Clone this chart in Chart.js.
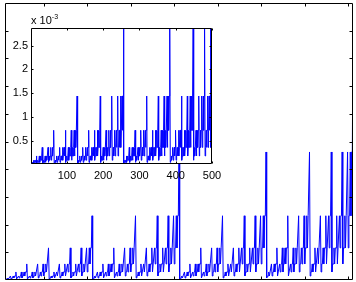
<!DOCTYPE html>
<html>
<head>
<meta charset="utf-8">
<script src="https://cdn.jsdelivr.net/npm/chart.js@4.4.1/dist/chart.umd.min.js"></script>
<style>
  body { margin: 0; background: #fff; }
  #wrap { position: relative; width: 356px; height: 282px; }
  #wrap canvas { position: absolute; left: 0; top: 0; }
  #expo { position: absolute; left: 31px; top: 13px; font: 11px 'Liberation Sans', Arial, sans-serif; color: #000; }
  #expo sup { font-size: 7px; }
</style>
</head>
<body>
<div id="wrap">
  <canvas id="mainChart" width="356" height="282"></canvas>
  <canvas id="insetChart" width="230" height="190"></canvas>
  <div id="expo">x 10<sup>-3</sup></div>
</div>
<script>
// signal values (x 10^-3), samples 1..512
const signal = [
  0.011,0.022,0.022,0.045,0.022,0.045,0.045,0.09,0.022,0.045,0.045,0.09,0.045,0.09,0.09,0.18,
  0.022,0.045,0.045,0.09,0.045,0.09,0.09,0.18,0.045,0.09,0.09,0.18,0.09,0.18,0.18,0.36,
  0.022,0.045,0.045,0.09,0.045,0.09,0.09,0.18,0.045,0.09,0.09,0.18,0.09,0.18,0.18,0.36,
  0.045,0.09,0.09,0.18,0.09,0.18,0.18,0.36,0.09,0.18,0.18,0.36,0.18,0.36,0.36,0.72,
  0.022,0.045,0.045,0.09,0.045,0.09,0.09,0.18,0.045,0.09,0.09,0.18,0.09,0.18,0.18,0.36,
  0.045,0.09,0.09,0.18,0.09,0.18,0.18,0.36,0.09,0.18,0.18,0.36,0.18,0.36,0.36,0.72,
  0.045,0.09,0.09,0.18,0.09,0.18,0.18,0.36,0.09,0.18,0.18,0.36,0.18,0.36,0.36,0.72,
  0.09,0.18,0.18,0.36,0.18,0.36,0.36,0.72,0.18,0.36,0.36,0.72,0.36,0.72,0.72,1.44,
  0.022,0.045,0.045,0.09,0.045,0.09,0.09,0.18,0.045,0.09,0.09,0.18,0.09,0.18,0.18,0.36,
  0.045,0.09,0.09,0.18,0.09,0.18,0.18,0.36,0.09,0.18,0.18,0.36,0.18,0.36,0.36,0.72,
  0.045,0.09,0.09,0.18,0.09,0.18,0.18,0.36,0.09,0.18,0.18,0.36,0.18,0.36,0.36,0.72,
  0.09,0.18,0.18,0.36,0.18,0.36,0.36,0.72,0.18,0.36,0.36,0.72,0.36,0.72,0.72,1.44,
  0.045,0.09,0.09,0.18,0.09,0.18,0.18,0.36,0.09,0.18,0.18,0.36,0.18,0.36,0.36,0.72,
  0.09,0.18,0.18,0.36,0.18,0.36,0.36,0.72,0.18,0.36,0.36,0.72,0.36,0.72,0.72,1.44,
  0.09,0.18,0.18,0.36,0.18,0.36,0.36,0.72,0.18,0.36,0.36,0.72,0.36,0.72,0.72,1.44,
  0.18,0.36,0.36,0.72,0.36,0.72,0.72,1.44,0.36,0.72,0.72,1.44,0.72,1.44,1.44,2.87,
  0.022,0.045,0.045,0.09,0.045,0.09,0.09,0.18,0.045,0.09,0.09,0.18,0.09,0.18,0.18,0.36,
  0.045,0.09,0.09,0.18,0.09,0.18,0.18,0.36,0.09,0.18,0.18,0.36,0.18,0.36,0.36,0.72,
  0.045,0.09,0.09,0.18,0.09,0.18,0.18,0.36,0.09,0.18,0.18,0.36,0.18,0.36,0.36,0.72,
  0.09,0.18,0.18,0.36,0.18,0.36,0.36,0.72,0.18,0.36,0.36,0.72,0.36,0.72,0.72,1.44,
  0.045,0.09,0.09,0.18,0.09,0.18,0.18,0.36,0.09,0.18,0.18,0.36,0.18,0.36,0.36,0.72,
  0.09,0.18,0.18,0.36,0.18,0.36,0.36,0.72,0.18,0.36,0.36,0.72,0.36,0.72,0.72,1.44,
  0.09,0.18,0.18,0.36,0.18,0.36,0.36,0.72,0.18,0.36,0.36,0.72,0.36,0.72,0.72,1.44,
  0.18,0.36,0.36,0.72,0.36,0.72,0.72,1.44,0.36,0.72,0.72,1.44,0.72,1.44,1.44,2.87,
  0.045,0.09,0.09,0.18,0.09,0.18,0.18,0.36,0.09,0.18,0.18,0.36,0.18,0.36,0.36,0.72,
  0.09,0.18,0.18,0.36,0.18,0.36,0.36,0.72,0.18,0.36,0.36,0.72,0.36,0.72,0.72,1.44,
  0.09,0.18,0.18,0.36,0.18,0.36,0.36,0.72,0.18,0.36,0.36,0.72,0.36,0.72,0.72,1.44,
  0.18,0.36,0.36,0.72,0.36,0.72,0.72,1.44,0.36,0.72,0.72,1.44,0.72,1.44,1.44,2.87,
  0.09,0.18,0.18,0.36,0.18,0.36,0.36,0.72,0.18,0.36,0.36,0.72,0.36,0.72,0.72,1.44,
  0.18,0.36,0.36,0.72,0.36,0.72,0.72,1.44,0.36,0.72,0.72,1.44,0.72,1.44,1.44,2.87,
  0.18,0.36,0.36,0.72,0.36,0.72,0.72,1.44,0.36,0.72,0.72,1.44,0.72,1.44,1.44,2.87,
  0.36,0.72,0.72,1.44,0.72,1.44,1.44,2.87,0.72,1.44,1.44,2.87,1.44,2.87,2.87,5.74
];
const insetCount = 500;

// tick positions (labels of the main axes are cut off in the picture)
const mainXTicks = [57, 121, 185, 249, 313, 377, 441, 505];
const mainYTicks = [0.621, 1.242, 1.863, 2.484, 3.105, 3.726, 4.347, 4.968, 5.589];
const insetXTicks = [100, 200, 300, 400, 500];
const insetYTicks = [0.5, 1, 1.5, 2, 2.5];

const font = { family: "'Liberation Sans', Arial, sans-serif", size: 11 };

// white plot area + black box with inward ticks, matlab style
const frameTicks = {
  id: 'frameTicks',
  beforeDraw(chart, args, opts) {
    if (!opts.fill) return;
    const a = chart.chartArea;
    chart.ctx.save();
    chart.ctx.fillStyle = '#fff';
    chart.ctx.fillRect(a.left, a.top, a.right - a.left, a.bottom - a.top);
    chart.ctx.restore();
  },
  afterDraw(chart, args, opts) {
    const { ctx, chartArea: a, scales } = chart;
    const l = Math.round(a.left) + 0.5, r = Math.round(a.right) - 0.5;
    const t = Math.round(a.top) + 0.5, b = Math.round(a.bottom) - 0.5;
    ctx.save();
    ctx.strokeStyle = '#000';
    ctx.lineWidth = 1;
    ctx.beginPath();
    ctx.rect(l, t, r - l, b - t);
    opts.xTicks.forEach(v => {
      const x = Math.round(scales.x.getPixelForValue(v)) + 0.5;
      ctx.moveTo(x, b); ctx.lineTo(x, b - opts.len);
      ctx.moveTo(x, t); ctx.lineTo(x, t + opts.len);
    });
    opts.yTicks.forEach(v => {
      const y = Math.round(scales.y.getPixelForValue(v)) + 0.5;
      ctx.moveTo(l, y); ctx.lineTo(l + opts.len, y);
      ctx.moveTo(r, y); ctx.lineTo(r - opts.len, y);
    });
    ctx.stroke();
    ctx.restore();
  }
};

const lineSet = (pts) => ({
  data: pts,
  borderColor: '#0000ff',
  borderWidth: 1,
  pointRadius: 0,
  tension: 0,
  fill: false
});

// Main chart
const mainPts = signal.map((y, i) => ({ x: i + 1, y }));
new Chart(document.getElementById('mainChart'), {
  type: 'line',
  data: { datasets: [lineSet(mainPts)] },
  options: {
    responsive: false,
    animation: false,
    events: [],
    layout: { padding: { left: 5, top: 3, right: 3, bottom: 2 } },
    plugins: {
      legend: { display: false },
      tooltip: { enabled: false },
      frameTicks: { len: 3, xTicks: mainXTicks, yTicks: mainYTicks }
    },
    scales: {
      x: { type: 'linear', min: 0, max: 512, display: false },
      y: { type: 'linear', min: 0, max: 6.21, display: false }
    }
  },
  plugins: [frameTicks]
});

// Inset chart
const insetPts = signal.slice(0, insetCount).map((y, i) => ({ x: i + 1, y }));
new Chart(document.getElementById('insetChart'), {
  type: 'line',
  data: { datasets: [lineSet(insetPts)] },
  options: {
    responsive: false,
    animation: false,
    events: [],
    layout: { padding: { left: 0, top: 28, right: 18, bottom: 0 } },
    plugins: {
      legend: { display: false },
      tooltip: { enabled: false },
      frameTicks: { len: 2, fill: true, xTicks: insetXTicks, yTicks: insetYTicks }
    },
    scales: {
      x: {
        type: 'linear', min: 1, max: 500,
        afterBuildTicks: s => { s.ticks = insetXTicks.map(v => ({ value: v })); },
        afterFit: s => { s.height = 26; },
        grid: { display: false, drawTicks: false },
        border: { display: false },
        ticks: { font, color: '#000', padding: 5, maxRotation: 0, autoSkip: false }
      },
      y: {
        type: 'linear', min: 0.011, max: 2.87,
        afterBuildTicks: s => { s.ticks = insetYTicks.map(v => ({ value: v })); },
        afterFit: s => { s.width = 31; },
        grid: { display: false, drawTicks: false },
        border: { display: false },
        ticks: { font, color: '#000', padding: 3, callback: v => String(v) }
      }
    }
  },
  plugins: [frameTicks]
});
</script>
</body>
</html>
